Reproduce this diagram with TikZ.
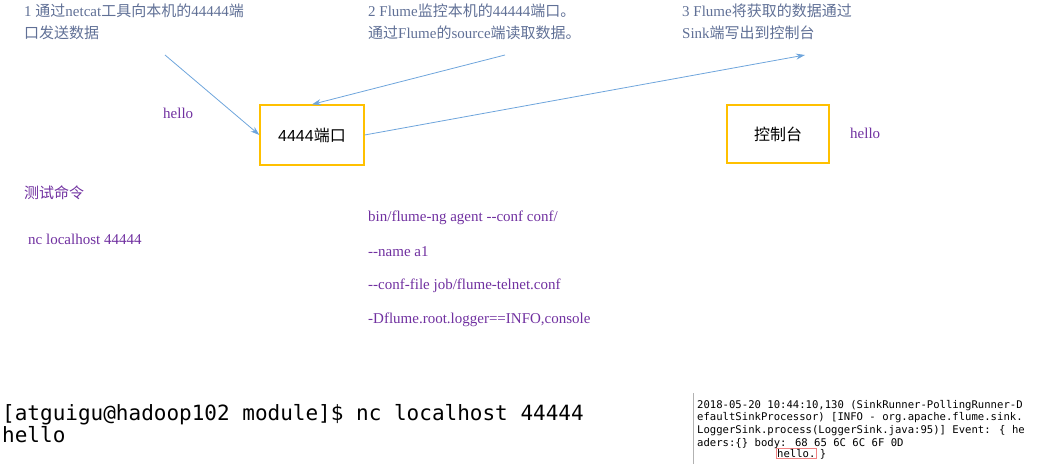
\documentclass[tikz,border=0pt]{standalone}
\usepackage{fontspec}
\setmainfont{Liberation Serif}
\newfontfamily\cjk{Noto Sans CJK SC}
\newfontfamily\termfont{DejaVu Sans Mono}
\usetikzlibrary{arrows.meta,positioning}
\definecolor{notecol}{RGB}{96,112,150}
\definecolor{arrowcol}{RGB}{110,165,220}
\definecolor{boxcol}{RGB}{255,192,0}
\definecolor{purplecol}{RGB}{112,48,160}
\definecolor{logred}{RGB}{240,130,130}
\tikzset{
  notetext/.style={inner sep=0, anchor=north west, align=left, notecol, font=\fontsize{15pt}{22pt}\selectfont},
  portbox/.style={draw=boxcol, line width=1.2pt, minimum width=104, minimum height=60, font=\cjk\fontsize{16pt}{18pt}\selectfont},
  flowarrow/.style={arrowcol, line width=0.8pt, -{Stealth[length=9pt,width=6pt]}},
  cmdtext/.style={inner sep=0, anchor=base west, purplecol, font=\fontsize{15pt}{16pt}\selectfont},
}
\begin{document}
\begin{tikzpicture}[x=1pt,y=-1pt]
	\useasboundingbox (0,0) rectangle (1045,464);
	% notes
	\node[notetext] (noteA) at (24,4) {1 {\cjk 通过}netcat{\cjk 工具向本机的}44444{\cjk 端}\\{\cjk 口发送数据}};
	\node[notetext] (noteB) at (368,4) {2 Flume{\cjk 监控本机的}44444{\cjk 端口。}\\{\cjk 通过}Flume{\cjk 的}source{\cjk 端读取数据。}};
	\node[notetext] (noteC) at (682,4) {3 Flume{\cjk 将获取的数据通过}\\Sink{\cjk 端写出到控制台}};
	% boxes
	\node[portbox] (port) at (312,135) {\fontspec{Liberation Sans}4444\cjk 端口};
	\node[portbox, minimum width=102, minimum height=58] (console) at (778,134) {控制台};
	\node[cmdtext] (helloA) at (163,118) {hello};
	\node[cmdtext] (helloB) at (850,138) {hello};
	% arrows
	\coordinate (fromA) at (165,55);
	\coordinate (fromB) at (505,55);
	\coordinate (toC) at (805,55);
	\draw[flowarrow] (fromA) -- (port.west);
	\draw[flowarrow] (fromB) -- (port.north);
	\draw[flowarrow] (port.east) -- (toC);
	% commands
	\node[cmdtext, font=\cjk\fontsize{15pt}{16pt}\selectfont] (testcmd) at (24,198) {测试命令};
	\node[cmdtext] (nccmd) at (28,244) {nc localhost 44444};
	\node[cmdtext] (lineA) at (368,221) {bin/flume-ng agent {-}{-}conf conf/};
	\node[cmdtext] (lineB) at (368,256) {{-}{-}name a1};
	\node[cmdtext] (lineC) at (368,289) {{-}{-}conf-file job/flume-telnet.conf};
	\node[cmdtext] (lineD) at (368,323) {-Dflume.root.logger==INFO,console};
	% terminal
	\node[inner sep=0, anchor=base west, font=\termfont\fontsize{21pt}{22pt}\selectfont] (term) at (2,420) {[atguigu@hadoop102 module]\$ nc localhost 44444};
	\node[inner sep=0, anchor=base west, font=\termfont\fontsize{21pt}{22pt}\selectfont] (termhello) at (2,442) {hello};
	% log
	\draw[gray!60, line width=1pt] (693,393) -- (693,464);
	\node[inner sep=0, anchor=north west, align=left, font=\termfont\fontsize{10.6pt}{12.6pt}\selectfont] (log) at (697,400) {2018-05-20 10:44:10,130 (SinkRunner-PollingRunner-D\\efaultSinkProcessor) [INFO - org.apache.flume.sink.\\LoggerSink.process(LoggerSink.java:95)] Event: \{ he\\aders:\{\} body: 68 65 6C 6C 6F 0D};
	\node[draw=logred, inner sep=1pt, anchor=base west, font=\termfont\fontsize{10.6pt}{11pt}\selectfont] (loghello) at (776,457) {hello.};
	\node[inner sep=0, anchor=base west, font=\termfont\fontsize{10.6pt}{11pt}\selectfont] (logend) at ([xshift=3pt]loghello.base east) {\}};
\end{tikzpicture}
\end{document}
